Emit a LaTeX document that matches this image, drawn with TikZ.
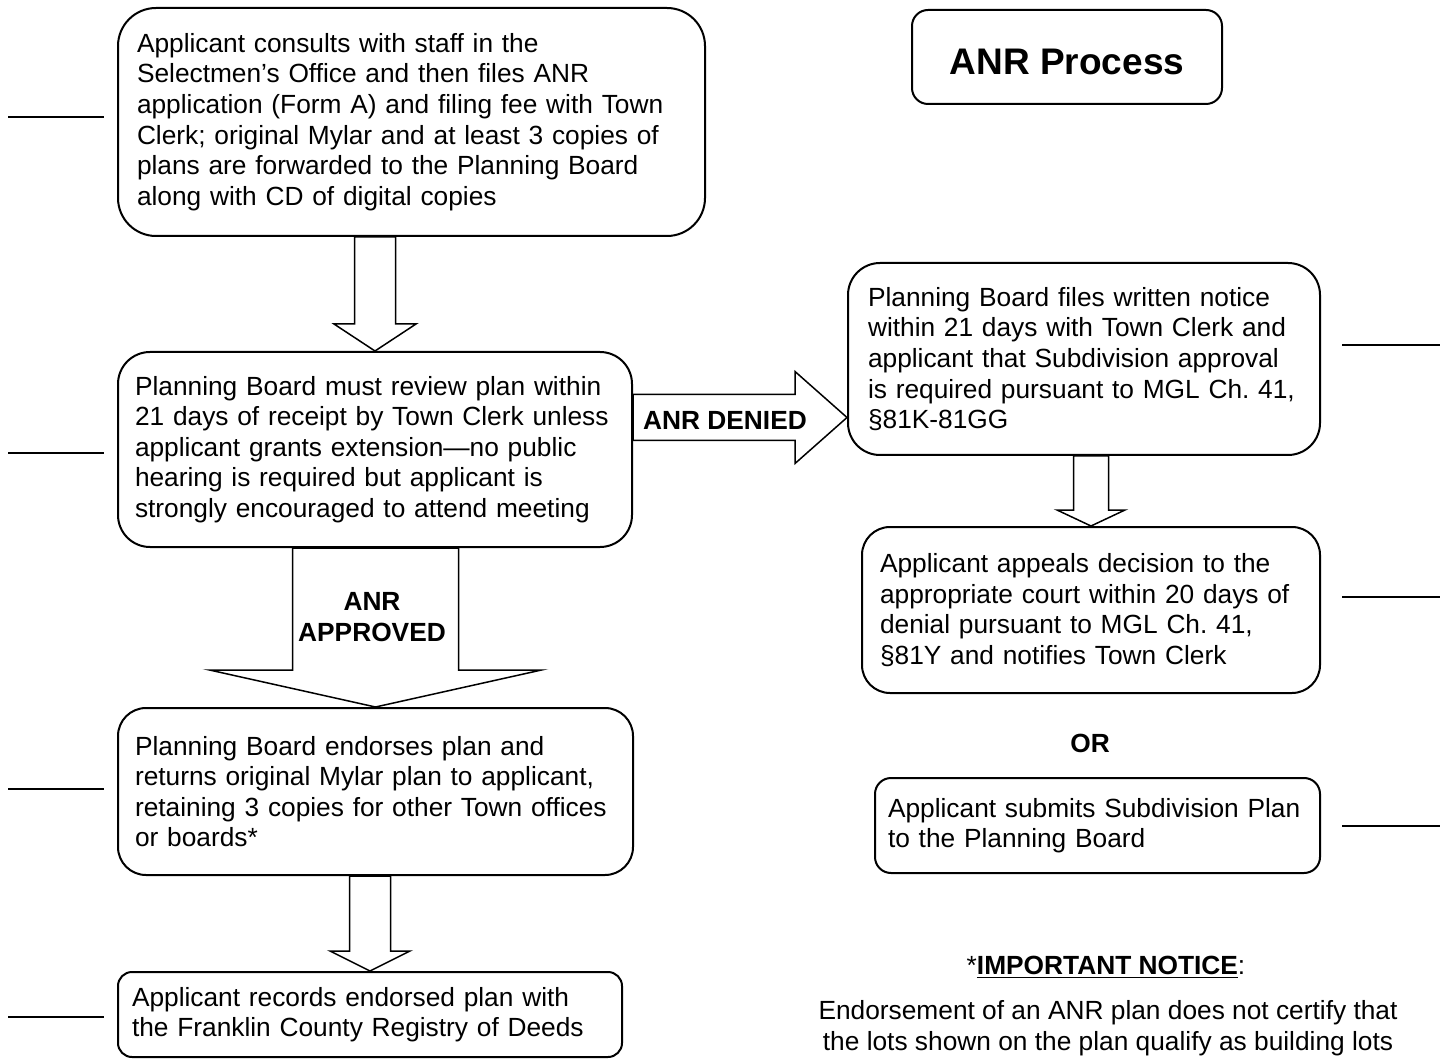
\documentclass[tikz,border=0pt]{standalone}
\usepackage{fontspec}
\setmainfont{Liberation Sans}
\usepackage{tikz}
\usetikzlibrary{calc, positioning}
\frenchspacing
\newcommand{\boxfont}{\fontsize{13.15}{15.3}\selectfont}
\tikzset{
  box_font/.style = {font=\boxfont},
  title_font/.style = {font=\fontsize{18.5}{22}\selectfont\bfseries},
  label_font/.style = {font=\boxfont\bfseries}
}
\tikzset{
  step_box/.style = {box_font, align=left, draw, line width=1pt, fill=white},
  title_box/.style = {title_font, align=center, draw, line width=1pt, rounded corners=8pt},
  block_arrow/.style = {draw, line width=0.75pt, fill=white},
  arrow_label/.style = {label_font, align=center, inner sep=0},
  tick_line/.style = {line width=1.2pt}
}
% hollow block arrows: start, tip, half shaft, half head, head length
\newcommand{\blockdown}[5]{%
  \draw[block_arrow] let \p1=(#1), \p2=(#2) in
    (\x2-#3,\y1) -- (\x2-#3,\y2+#5) -- (\x2-#4,\y2+#5) -- (\x2,\y2)
    -- (\x2+#4,\y2+#5) -- (\x2+#3,\y2+#5) -- (\x2+#3,\y1) -- cycle;}
\newcommand{\blockright}[5]{%
  \draw[block_arrow] let \p1=(#1), \p2=(#2) in
    (\x1,\y1+#3) -- (\x2-#5,\y1+#3) -- (\x2-#5,\y1+#4) -- (\x2,\y1)
    -- (\x2-#5,\y1-#4) -- (\x2-#5,\y1-#3) -- (\x1,\y1-#3) -- cycle;}

\begin{document}
\begin{tikzpicture}[x=0.5pt, y=-0.5pt]
    \useasboundingbox (0,0) rectangle (1444,1063);

    % Title
    \node[title_box, minimum width=155pt, minimum height=47pt, text height=18pt, text depth=0pt] at (1067,57) (title) {
        ANR Process};

    % Left column
    \node[step_box, text width=274.5pt, inner xsep=9.5pt, minimum height=114pt, rounded corners=19pt] at (411.5,122) (consult) {
        Applicant consults with staff in the\\
        Selectmen’s Office and then files ANR\\
        application (Form A) and filing fee with Town\\
        Clerk; original Mylar and at least 3 copies of\\
        plans are forwarded to the Planning Board\\
        along with CD of digital copies};
    \node[step_box, text width=240pt, inner xsep=8.5pt, minimum height=97.5pt, rounded corners=16pt] at (375,449.5) (review) {
        Planning Board must review plan within\\
        21 days of receipt by Town Clerk unless\\
        applicant grants extension—no public\\
        hearing is required but applicant is\\
        strongly encouraged to attend meeting};
    \node[step_box, text width=240.5pt, inner xsep=8.5pt, minimum height=83.5pt, rounded corners=14pt] at (375.5,791.5) (endorse) {
        Planning Board endorses plan and\\
        returns original Mylar plan to applicant,\\
        retaining 3 copies for other Town offices\\
        or boards*};
    \node[step_box, text width=238pt, inner xsep=7pt, minimum height=42.5pt, rounded corners=7pt] at (370,1014.5) (record) {
        Applicant records endorsed plan with\\
        the Franklin County Registry of Deeds};

    % Right column
    \node[step_box, text width=216pt, inner xsep=10pt, minimum height=96pt, rounded corners=16pt] at (1084,359) (notice) {
        Planning Board files written notice\\
        within 21 days with Town Clerk and\\
        applicant that Subdivision approval\\
        is required pursuant to MGL Ch. 41,\\
        §81K-81GG};
    \node[step_box, text width=211pt, inner xsep=9pt, minimum height=83pt, rounded corners=14pt] at (1091,610) (appeal) {
        Applicant appeals decision to the\\
        appropriate court within 20 days of\\
        denial pursuant to MGL Ch. 41,\\
        §81Y and notifies Town Clerk};
    \node[arrow_label] at (1090,743) (or) {OR};
    \node[step_box, text width=209.5pt, inner xsep=6.5pt, minimum height=47.5pt, rounded corners=8pt] at (1097.5,825.5) (submit) {
        Applicant submits Subdivision Plan\\
        to the Planning Board};

    % Notice
    \node[box_font, inner sep=0] at (1106,967) (important) {
        *\underline{\textbf{IMPORTANT NOTICE}}:};
    \node[box_font, align=center, inner sep=0] at (1108,1028) (important_text) {
        Endorsement of an ANR plan does not certify that\\
        the lots shown on the plan qualify as building lots};

    % Arrows
    \blockdown{consult.south}{review.north}{10.25pt}{20.5pt}{13.5pt}
    \blockdown{review.south}{endorse.north}{41.5pt}{83pt}{18.5pt}
    \blockdown{endorse.south}{record.north}{10.25pt}{20pt}{10pt}
    \blockdown{notice.south}{appeal.north}{8.75pt}{17pt}{8pt}
    \blockright{$(review.east)+(0,-32)$}{notice.west}{11.5pt}{23pt}{26pt}
    \node[arrow_label] at (372,617) (approved) {ANR\\APPROVED};
    \node[arrow_label] at (725,420) (denied) {ANR DENIED};

    % Blank lines
    \foreach \ty in {117,453,789,1017}
        \draw[tick_line] (8,\ty) -- (104,\ty);
    \foreach \ty in {345,597,826}
        \draw[tick_line] (1342,\ty) -- (1440,\ty);
\end{tikzpicture}
\end{document}
